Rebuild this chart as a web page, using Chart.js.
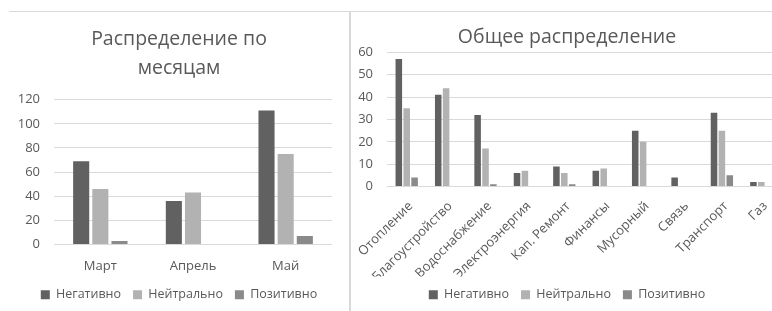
<!DOCTYPE html>
<html>
<head>
<meta charset="utf-8">
<script src="https://cdn.jsdelivr.net/npm/chart.js@4"></script>
<style>
  html, body { margin: 0; padding: 0; background: #fff; }
  body { width: 772px; height: 311px; overflow: hidden; position: relative; }
  .box { position: absolute; }
  #leftBox { left: 9px; top: 12px; width: 340px; height: 300px; }
  #rightBox { left: 352px; top: 12px; width: 430px; height: 300px; }
  .topLine { position: absolute; left: 9px; top: 11px; width: 763px; height: 1px; background: #d9d9d9; }
  .sepLine { position: absolute; left: 349px; top: 11px; width: 2px; height: 300px; background: #d9d9d9; }
</style>
</head>
<body>
<div class="topLine"></div>
<div class="sepLine"></div>
<div class="box" id="leftBox"><canvas id="leftChart"></canvas></div>
<div class="box" id="rightBox"><canvas id="rightChart"></canvas></div>
<script>
const seriesNames = ['Негативно', 'Нейтрально', 'Позитивно']
const seriesColors = ['#616161', '#b2b2b2', '#8a8a8a']

const months = ['Март', 'Апрель', 'Май']
const monthNegative = [69, 36, 111]
const monthNeutral = [46, 43, 75]
const monthPositive = [3, 0, 7]

const topics = ['Отопление', 'Благоустройство', 'Водоснабжение', 'Электроэнергия', 'Кап. Ремонт',
    'Финансы', 'Мусорный', 'Связь', 'Транспорт', 'Газ']
const topicNegative = [57, 41, 32, 6, 9, 7, 25, 4, 33, 2]
const topicNeutral = [35, 44, 17, 7, 6, 8, 20, 0, 25, 2]
const topicPositive = [4, 0, 1, 0, 1, 0, 0, 0, 5, 0]

const textColor = '#595959'
const gridColor = '#d9d9d9'
const fontFamily = '"Open Sans", "Noto Sans", sans-serif'

function makeDatasets(values, catPct, barPct) {
    return values.map((data, i) => ({
        label: seriesNames[i],
        data: data,
        backgroundColor: seriesColors[i],
        borderWidth: 0,
        categoryPercentage: catPct,
        barPercentage: barPct
    }))
}

// o: title, yMax, yStep, rotate, titlePad, titleLH, yWidth, rightGap, xHeight, xFont, xShift, xPad
function makeConfig(labels, datasets, o) {
    return {
        type: 'bar',
        data: { labels: labels, datasets: datasets },
        options: {
            responsive: true,
            maintainAspectRatio: false,
            animation: false,
            layout: { padding: { left: 0, right: 0, top: 0, bottom: 1 } },
            plugins: {
                title: {
                    display: true,
                    text: o.title,
                    color: textColor,
                    font: { family: fontFamily, size: 19.5, weight: 'normal', lineHeight: o.titleLH },
                    padding: o.titlePad
                },
                legend: {
                    position: 'bottom',
                    labels: {
                        color: textColor,
                        font: { family: fontFamily, size: 12.5 },
                        boxWidth: 9,
                        boxHeight: 9,
                        padding: 12
                    }
                },
                tooltip: { enabled: false }
            },
            scales: {
                x: {
                    grid: { display: false },
                    border: { display: false },
                    afterFit: scale => {
                        scale.height = o.xHeight
                        scale.paddingLeft = 0
                        scale.paddingRight = 0
                    },
                    ticks: {
                        color: textColor,
                        font: { family: fontFamily, size: o.xFont },
                        maxRotation: o.rotate,
                        minRotation: o.rotate,
                        autoSkip: false,
                        labelOffset: o.xShift,
                        padding: o.xPad
                    }
                },
                y: {
                    min: 0,
                    max: o.yMax,
                    grid: { color: gridColor, drawTicks: false },
                    border: { display: false },
                    afterFit: scale => { scale.width = o.yWidth },
                    ticks: {
                        stepSize: o.yStep,
                        color: textColor,
                        font: { family: fontFamily, size: 13 },
                        padding: 14
                    }
                },
                // empty right axis, only keeps a gap at the right edge
                yGap: {
                    position: 'right',
                    min: 0,
                    max: 1,
                    grid: { display: false },
                    border: { display: false },
                    ticks: { display: false },
                    afterFit: scale => { scale.width = o.rightGap }
                }
            }
        }
    }
}

new Chart(document.getElementById('leftChart'), makeConfig(
    months,
    makeDatasets([monthNegative, monthNeutral, monthPositive], 0.62, 0.84),
    {
        title: ['Распределение по', 'месяцам'],
        yMax: 120, yStep: 20, rotate: 0,
        titlePad: { top: 13, bottom: 17 }, titleLH: 1.48,
        yWidth: 45, rightGap: 17, xHeight: 32, xFont: 13, xShift: 0, xPad: 6
    }
))

new Chart(document.getElementById('rightChart'), makeConfig(
    topics,
    makeDatasets([topicNegative, topicNeutral, topicPositive], 0.6, 0.83),
    {
        title: 'Общее распределение',
        yMax: 60, yStep: 10, rotate: 45,
        titlePad: { top: 14, bottom: 3 }, titleLH: 1.2,
        yWidth: 35, rightGap: 1, xHeight: 90, xFont: 13, xShift: 4, xPad: 4
    }
))
</script>
</body>
</html>
